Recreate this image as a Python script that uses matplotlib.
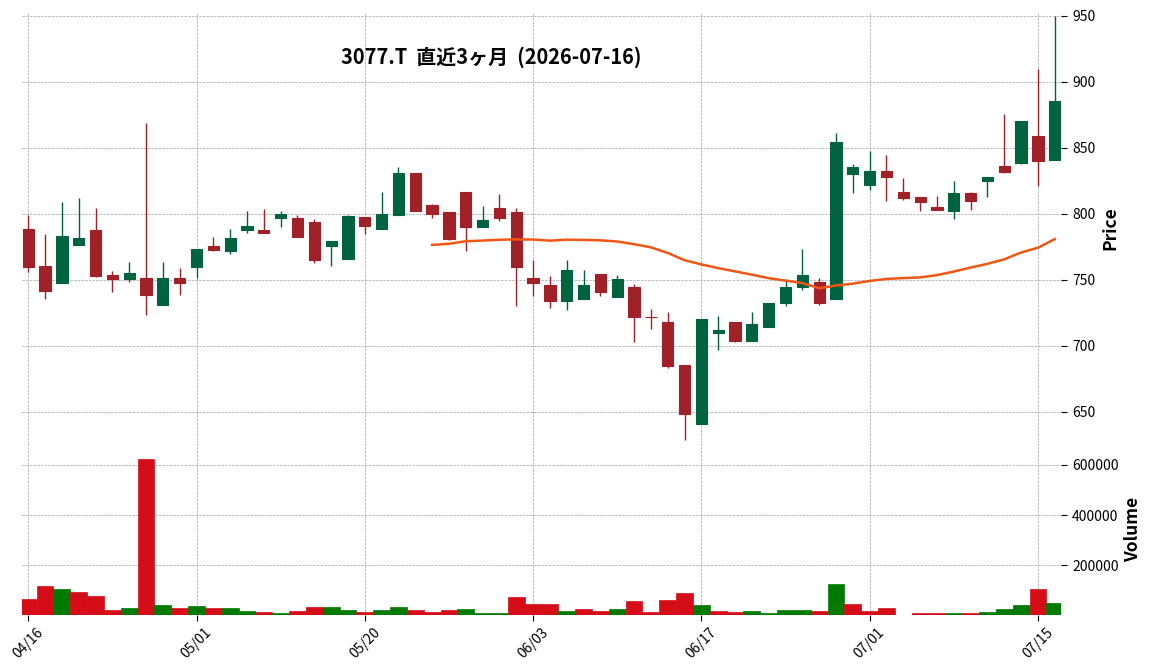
import numpy as np
import pandas as pd
import matplotlib
matplotlib.use('Agg')
import matplotlib.pyplot as plt
from matplotlib.ticker import MultipleLocator

plt.rcParams['font.family'] = ['Noto Sans CJK JP', 'DejaVu Sans']

# trading days (TSE), 2026-04-16 .. 2026-07-16
holidays = ['2026-04-29', '2026-05-04', '2026-05-05', '2026-05-06']
dates = pd.bdate_range('2026-04-16', '2026-07-16', freq='C', holidays=holidays)

opens = [788.1, 760.1, 747.5, 776.3, 787.4, 753.3, 750.3, 751.3, 730.8, 751.0,
         759.6, 775.3, 771.7, 787.6, 787.4, 796.7, 796.5, 793.4, 775.5, 765.7,
         797.2, 788.4, 799.0, 830.6, 806.3, 801.0, 816.2, 789.9, 804.0, 801.0,
         751.3, 745.7, 733.8, 735.4, 754.0, 736.9, 744.2, 722.0, 717.7, 685.1,
         640.7, 709.6, 717.7, 703.5, 714.1, 732.1, 744.4, 748.0, 735.4, 830.0,
         821.7, 832.1, 816.2, 812.4, 804.8, 801.8, 815.4, 824.5, 835.9, 838.4,
         858.6, 840.7]
highs = [799.2, 784.8, 809.1, 812.1, 804.5, 756.8, 763.6, 868.9, 763.6, 759.1,
         773.0, 782.6, 788.6, 802.3, 803.8, 802.3, 799.0, 796.0, 779.0, 799.2,
         797.2, 816.4, 835.4, 830.6, 807.6, 801.0, 816.2, 806.1, 815.2, 804.5,
         765.2, 753.0, 765.2, 757.6, 754.0, 753.5, 747.0, 728.0, 725.8, 685.1,
         720.0, 722.7, 717.7, 725.3, 732.1, 750.8, 773.5, 751.5, 861.4, 837.9,
         847.7, 844.7, 827.3, 812.4, 813.4, 825.0, 816.7, 828.0, 875.8, 870.0,
         909.8, 950.0]
lows = [755.8, 735.6, 747.5, 776.0, 752.0, 740.7, 748.2, 723.5, 730.8, 738.6,
        751.5, 771.5, 769.7, 785.6, 785.0, 790.2, 782.0, 762.9, 760.6, 765.7,
        784.8, 788.4, 799.0, 802.0, 797.0, 780.3, 771.5, 789.9, 794.7, 729.8,
        737.9, 728.8, 726.8, 735.4, 737.4, 736.9, 702.8, 712.9, 683.3, 628.8,
        640.7, 697.0, 702.8, 703.5, 714.0, 729.8, 742.0, 731.0, 735.4, 815.9,
        818.2, 809.8, 810.4, 802.3, 802.8, 796.0, 803.0, 812.9, 830.8, 837.4,
        821.2, 840.7]
closes = [759.6, 741.4, 782.8, 781.3, 752.5, 750.5, 754.8, 738.1, 751.3, 747.5,
          773.0, 772.5, 781.3, 790.4, 785.4, 799.5, 782.3, 764.9, 779.0, 798.0,
          790.7, 799.5, 830.6, 802.0, 799.7, 781.0, 789.9, 795.0, 796.7, 759.6,
          747.5, 733.8, 757.1, 745.7, 740.7, 750.3, 721.7, 721.5, 684.3, 648.2,
          720.0, 711.6, 703.5, 716.2, 732.1, 744.2, 753.3, 732.1, 854.0, 835.1,
          832.1, 827.8, 811.9, 808.8, 802.8, 815.4, 809.6, 827.5, 831.3, 870.0,
          839.9, 885.1]
volumes = [66000, 117500, 105600, 93700, 77900, 22400, 30400, 624400, 42200, 30400,
           38300, 30400, 30400, 18500, 14500, 10600, 18500, 34300, 34300, 22400,
           14500, 22400, 34300, 22400, 14500, 22400, 26400, 10600, 10600, 73900,
           46200, 46200, 18500, 26400, 18500, 26400, 58100, 14500, 62000, 89800,
           42200, 18500, 14500, 18500, 11900, 22400, 22400, 18500, 125400, 46200,
           18500, 30400, 0, 10600, 10600, 10600, 10600, 14500, 26400, 42200,
           105600, 50200]

df = pd.DataFrame({'Open': opens, 'High': highs, 'Low': lows,
                   'Close': closes, 'Volume': volumes}, index=dates)
df['MA25'] = df['Close'].rolling(25).mean()

UP, DOWN = '#006340', '#a02128'
VUP, VDOWN = '#007a00', '#d50d18'
GRID = '#a0a0a0'

x = np.arange(len(df))
up = df['Close'] >= df['Open']
ccol = np.where(up, UP, DOWN)
prev = df['Close'].shift(1).fillna(df['Open'])
vcol = np.where(df['Close'] >= prev, VUP, VDOWN)

W, H = 1152, 672
fig = plt.figure(figsize=(W / 100, H / 100), dpi=100)
left, right = 22 / W, 1061 / W
ax = fig.add_axes([left, 1 - 443 / H, right - left, (443 - 13) / H])
axv = fig.add_axes([left, 1 - 615 / H, right - left, (615 - 443) / H], sharex=ax)

# candles
ax.vlines(x, df['Low'], df['High'], colors=ccol, linewidth=1.0, zorder=2)
body = (df['Close'] - df['Open']).abs()
ax.bar(x, body, bottom=np.minimum(df['Open'], df['Close']), width=0.67,
       color=ccol, edgecolor=ccol, linewidth=0.8, zorder=3)
ax.plot(x, df['MA25'], color='#ef5714', linewidth=1.8, zorder=4)

# volume
axv.bar(x, df['Volume'], width=1.0, color=vcol, edgecolor=vcol, linewidth=0.5, zorder=3)

ax.set_xlim(-0.37, len(df) - 1 + 0.37)
ax.set_ylim(626.3, 952)
vpos = df['Volume'][df['Volume'] > 0]
axv.set_ylim(0.3 * vpos.min(), 1.1 * df['Volume'].max())

for a in (ax, axv):
    a.set_facecolor('white')
    for s in a.spines.values():
        s.set_visible(False)
    a.grid(True, color=GRID, linestyle='--', linewidth=0.5, zorder=0)
    a.set_axisbelow(True)
    a.yaxis.tick_right()
    a.yaxis.set_label_position('right')
    a.tick_params(axis='y', length=4, width=0.8, labelsize=10, pad=4)

ax.yaxis.set_major_locator(MultipleLocator(50))
axv.yaxis.set_major_locator(MultipleLocator(200000))
axv.ticklabel_format(axis='y', style='plain')

tick_idx = list(range(0, len(df), 10))
axv.set_xticks(tick_idx)
axv.set_xticklabels([dates[i].strftime('%m/%d') for i in tick_idx], rotation=45)
axv.tick_params(axis='x', length=4, width=0.8, labelsize=10)
ax.tick_params(axis='x', length=0, labelbottom=False)

ax.set_ylabel('Price', fontsize=12.5, fontweight='semibold')
axv.set_ylabel('Volume', fontsize=12.5, fontweight='semibold')

fig.text(491 / W, 1 - 57 / H, '3077.T  直近3ヶ月  (2026-07-16)',
         ha='center', va='center', fontsize=14.4, fontweight='bold')

fig.savefig('out.png', dpi=100)
